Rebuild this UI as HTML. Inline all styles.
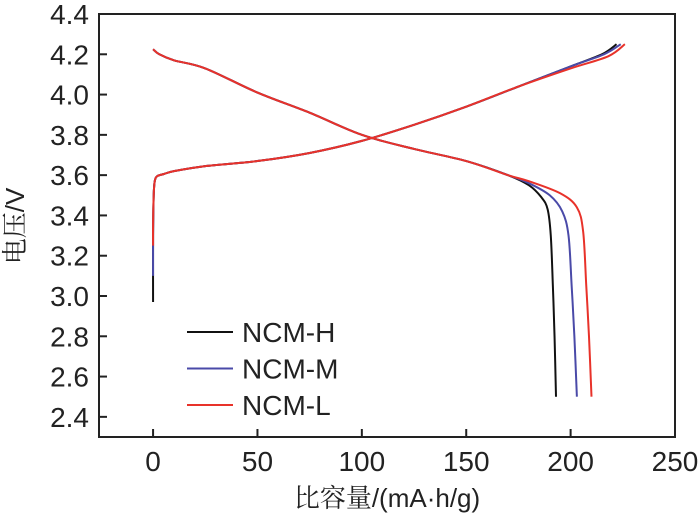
<!DOCTYPE html>
<html><head><meta charset="utf-8"><style>
body{margin:0;background:#fff}
svg text{font-family:"Liberation Sans","Noto Serif CJK SC",sans-serif;fill:#222}
</style></head><body>
<svg width="700" height="522">
<g id="g"></g>
</svg>
<script>
const xTicks=[0,50,100,150,200,250];
const yTicks=[2.4,2.6,2.8,3.0,3.2,3.4,3.6,3.8,4.0,4.2,4.4];
const seriesNames=["NCM-H","NCM-M","NCM-L"];
const colors=["#111111","#4a4aa8","#e8322a"];
const chargeX=[[0,0,0.3,0.8,2,5,10,25,50,75,100,125,150,175,200,215,222],[0,0,0.3,0.8,2,5,10,25,50,75,100,125,150,175,200,216,224],[0,0,0.3,0.8,2,5,10,25,50,75,100,125,150,175,200,218,226]];
const chargeY=[[2.97,3.3,3.5,3.57,3.595,3.605,3.62,3.645,3.67,3.71,3.77,3.85,3.94,4.04,4.14,4.2,4.25],[3.1,3.3,3.5,3.57,3.595,3.605,3.62,3.645,3.67,3.71,3.77,3.85,3.94,4.04,4.14,4.2,4.25],[3.25,3.35,3.5,3.57,3.595,3.605,3.62,3.645,3.67,3.71,3.77,3.85,3.94,4.04,4.13,4.19,4.25]];
const dischX=[[0,3,10,25,50,75,100,125,150,170,180,186,189,190.5,191.5,192.3,193],[0,3,10,25,50,75,100,125,150,170,180,190,196,199,200.5,201.8,203],[0,3,10,25,50,75,100,125,150,170,180,195,203,206,207.5,208.8,210]];
const dischY=[[4.225,4.2,4.17,4.13,4.01,3.91,3.8,3.73,3.67,3.6,3.55,3.49,3.43,3.3,3.05,2.8,2.5],[4.225,4.2,4.17,4.13,4.01,3.91,3.8,3.73,3.67,3.6,3.56,3.5,3.42,3.3,3.05,2.8,2.5],[4.225,4.2,4.17,4.13,4.01,3.91,3.8,3.73,3.67,3.6,3.57,3.51,3.44,3.32,3.05,2.8,2.5]];
const L=99,R=675,T=14,B=437,xmin=-25.9,xmax=250,ymin=2.3,ymax=4.4;
const sx=v=>L+(v-xmin)/(xmax-xmin)*(R-L);
const sy=v=>B-(v-ymin)/(ymax-ymin)*(B-T);
const g=document.getElementById('g');const NS="http://www.w3.org/2000/svg";
function mk(t,a,txt){const e=document.createElementNS(NS,t);for(const k in a)e.setAttribute(k,a[k]);if(txt!==undefined)e.textContent=txt;g.appendChild(e);return e;}
function smooth(xs,ys){const p=xs.map((x,i)=>[sx(x),sy(ys[i])]);let d='M'+p[0][0]+','+p[0][1];
 for(let i=0;i<p.length-1;i++){const p0=p[Math.max(0,i-1)],p1=p[i],p2=p[i+1],p3=p[Math.min(p.length-1,i+2)];
  const c1=[p1[0]+(p2[0]-p0[0])/6,p1[1]+(p2[1]-p0[1])/6],c2=[p2[0]-(p3[0]-p1[0])/6,p2[1]-(p3[1]-p1[1])/6];
  d+=' C'+c1[0]+','+c1[1]+' '+c2[0]+','+c2[1]+' '+p2[0]+','+p2[1];}return d;}
for(let s=0;s<3;s++){
 [[chargeX[s],chargeY[s]],[dischX[s],dischY[s]]].forEach((c,j)=>{
  const p=mk('path',{d:smooth(c[0],c[1]),fill:'none',stroke:colors[s],'stroke-width':2});
  
  
 });
}
const fr=mk('rect',{x:L,y:T,width:R-L,height:B-T,fill:'none',stroke:'#222','stroke-width':2});

xTicks.forEach(v=>{const x=sx(v);
 const t=mk('line',{x1:x,x2:x,y1:B,y2:B-8,stroke:'#222','stroke-width':2});
 
 const l=mk('text',{x:x,y:B+34,'font-size':28,'text-anchor':'middle'},v);
 });
yTicks.forEach(v=>{const y=sy(v);
 const t=mk('line',{x1:L,x2:L+8,y1:y,y2:y,stroke:'#222','stroke-width':2});
 
 const l=mk('text',{x:L-10,y:y+10,'font-size':28,'text-anchor':'end'},v.toFixed(1));
 });
seriesNames.forEach((n,i)=>{const y=332+i*36.5;
 const l=mk('line',{x1:187,x2:233,y1:y,y2:y,stroke:colors[i],'stroke-width':2});
 
 const t=mk('text',{x:242,y:y+10,'font-size':28},n);
 });
const xt=mk('text',{x:387,y:507,'font-size':26,'text-anchor':'middle'},'比容量/(mA·h/g)');

const yt=mk('text',{x:0,y:0,'font-size':26,'text-anchor':'middle',transform:'translate(24,226) rotate(-90)'},'电压/V');

</script>
</body></html>
